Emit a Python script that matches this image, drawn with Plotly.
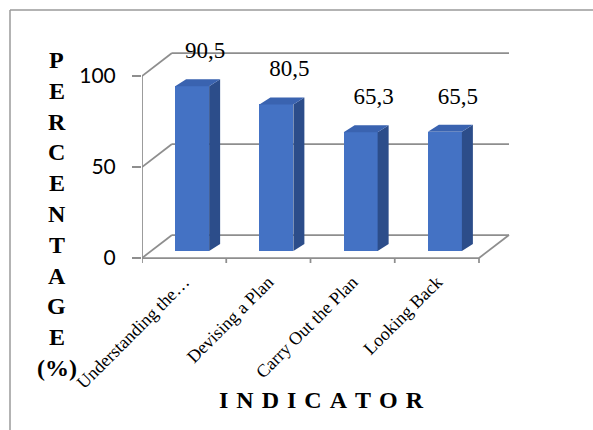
import plotly.graph_objects as go

# ---- data ----
categories = ["Understanding the…", "Devising a Plan", "Carry Out the Plan", "Looking Back"]
percentages = [90.5, 80.5, 65.3, 65.5]
y_ticks = [0, 50, 100]
y_title_letters = ["P", "E", "R", "C", "E", "N", "T", "A", "G", "E", "(%)"]
x_title = "INDICATOR"

# ---- page / plot geometry (pixels) ----
W, H = 593, 430
PX_LEFT = 142      # front-left corner of the floor (x = -0.5)
PX_FLOOR = 258     # front edge of the floor (y = 0)
SX = 84.25         # pixels per category
SY = 1.82          # pixels per percentage point
PX_RIGHT = 535
PX_TOP = 25
PX_BOTTOM = 265

# pseudo-3D depth (pixels) for walls and bars
WALL_DX, WALL_DY = 30, 23
BAR_SHIFT_X, BAR_SHIFT_Y = 8, 7     # bar front face sits a little inside the box
BAR_DX, BAR_DY = 11, 7              # bar depth
BAR_W = 34

GRID = "#8E8E8E"
FRONT = "#4472C4"
SIDE = "#2C4D8A"
TOP = "#3A63B0"
SERIF = "Liberation Serif, Times New Roman, serif"
SANS = "Lato, Liberation Sans, sans-serif"

# convert pixel offsets to data units
wdx, wdy = WALL_DX / SX, WALL_DY / SY
bsx, bsy = BAR_SHIFT_X / SX, BAR_SHIFT_Y / SY
bdx, bdy = BAR_DX / SX, BAR_DY / SY
bw = BAR_W / SX
n = len(categories)
x0, x1 = -0.5, n - 0.5

x_range = [-0.5, -0.5 + (PX_RIGHT - PX_LEFT) / SX]
y_range = [-(PX_BOTTOM - PX_FLOOR) / SY, (PX_FLOOR - PX_TOP) / SY]


def px(x):
    return x / W


def py(y):
    return 1 - y / H


# ---- box (walls, floor, axis) as shapes under the bars ----
segments = []
for t in y_ticks:
    segments.append((x0, t, x0 + wdx, t + wdy))            # side wall
    segments.append((x0 + wdx, t + wdy, x1 + wdx, t + wdy))  # back wall
segments.append((x0, 0, x0, max(y_ticks)))                 # value axis
segments.append((x0, 0, x1, 0))                            # floor front edge
segments.append((x1, 0, x1 + wdx, wdy))                    # floor right edge
for k in range(n + 1):
    segments.append((x0 + k, 0, x0 + k, -5 / SY))          # category ticks

shapes = [
    dict(type="line", xref="x", yref="y", x0=a, y0=b, x1=c, y1=d,
         line=dict(color=GRID, width=1.75), layer="below")
    for a, b, c, d in segments
]
# chart frame (top and left edges)
shapes.append(dict(type="line", xref="paper", yref="paper",
                   x0=px(10), x1=px(10), y0=py(10), y1=py(H + 5),
                   line=dict(color="#9A9A9A", width=1.5)))
shapes.append(dict(type="line", xref="paper", yref="paper",
                   x0=px(10), x1=px(W + 5), y0=py(10), y1=py(10),
                   line=dict(color="#9A9A9A", width=1.5)))

fig = go.Figure()

# front faces of the bars
bar_x = [i + bsx for i in range(n)]
fig.add_trace(go.Bar(
    x=bar_x, y=percentages, base=[bsy] * n, width=bw,
    marker=dict(color=FRONT, line=dict(width=0)),
    hoverinfo="skip", showlegend=False,
))

# side and top faces
side_x, side_y, top_x, top_y = [], [], [], []
for cx, v in zip(bar_x, percentages):
    xl, xr = cx - bw / 2, cx + bw / 2
    yb, yt = bsy, bsy + v
    side_x += [xr, xr + bdx, xr + bdx, xr, xr, None]
    side_y += [yb, yb + bdy, yt + bdy, yt, yb, None]
    top_x += [xl, xl + bdx, xr + bdx, xr, xl, None]
    top_y += [yt, yt + bdy, yt + bdy, yt, yt, None]

fig.add_trace(go.Scatter(x=side_x, y=side_y, mode="lines", fill="toself",
                         fillcolor=SIDE, line=dict(width=0, color=SIDE),
                         hoverinfo="skip", showlegend=False))
fig.add_trace(go.Scatter(x=top_x, y=top_y, mode="lines", fill="toself",
                         fillcolor=TOP, line=dict(width=0, color=TOP),
                         hoverinfo="skip", showlegend=False))

# value labels
fig.add_trace(go.Scatter(
    x=[cx + 13 / SX for cx in bar_x],
    y=[bsy + v + 34 / SY for v in percentages],
    mode="text",
    text=[f"{v:.1f}".replace(".", ",") for v in percentages],
    textposition="middle center",
    textfont=dict(family=SERIF, size=23, color="#000000"),
    cliponaxis=False, hoverinfo="skip", showlegend=False,
))

annotations = []
# vertical stacked axis title
for j, letter in enumerate(y_title_letters):
    yc = 60 + j * 30.8
    annotations.append(dict(
        xref="paper", yref="paper", x=px(57), y=py(yc),
        text=f"<b>{letter}</b>", showarrow=False,
        xanchor="center", yanchor="middle",
        font=dict(family=SERIF, size=24, color="#000000"),
    ))
# horizontal axis title
annotations.append(dict(
    xref="paper", yref="paper", x=px(321), y=py(400),
    text="<b>" + "\u2004".join(x_title) + "</b>", showarrow=False,
    xanchor="center", yanchor="middle",
    font=dict(family=SERIF, size=24, color="#000000"),
))

fig.update_layout(
    template="none",
    width=W, height=H, autosize=False,
    margin=dict(l=0, r=0, t=0, b=0, pad=0),
    paper_bgcolor="white", plot_bgcolor="rgba(0,0,0,0)",
    shapes=shapes, annotations=annotations,
    bargap=0, showlegend=False,
    xaxis=dict(
        domain=[px(PX_LEFT), px(PX_RIGHT)], range=x_range, automargin=False,
        tickvals=list(range(n)), ticktext=categories, tickangle=-45,
        ticks="", showgrid=False, zeroline=False, showline=False,
        tickfont=dict(family=SERIF, size=18, color="#000000"),
        ticklabelstandoff=2, fixedrange=True,
    ),
    yaxis=dict(
        domain=[py(PX_BOTTOM), py(PX_TOP)], range=y_range, automargin=False,
        tickvals=y_ticks, ticks="outside", ticklen=9, tickwidth=1.5,
        tickcolor=GRID, showgrid=False, zeroline=False, showline=False,
        tickfont=dict(family=SANS, size=21, color="#000000"),
        ticklabelstandoff=12, fixedrange=True,
    ),
)

fig.write_html("out.html")
